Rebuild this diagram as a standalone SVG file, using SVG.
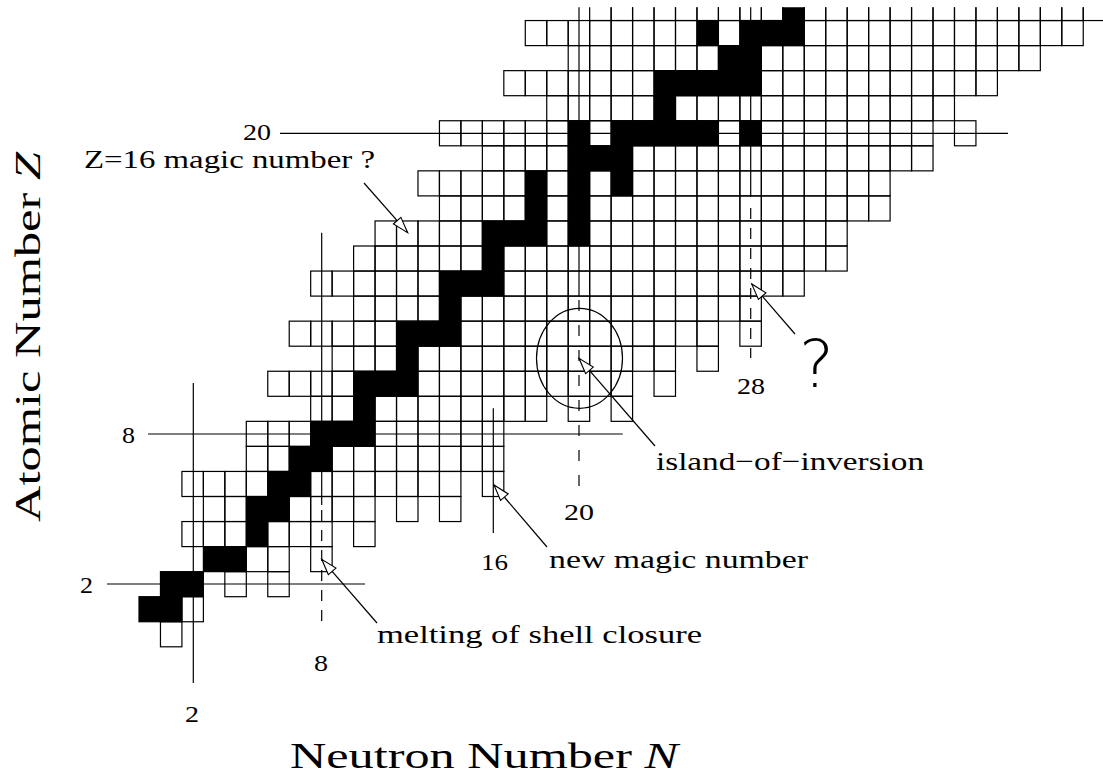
<svg xmlns="http://www.w3.org/2000/svg" xmlns:xlink="http://www.w3.org/1999/xlink" width="1103" height="778" viewBox="0 0 1103 778">
<defs>
<style>
.c{fill:none;stroke:#000;stroke-width:1.2}
.k{fill:#000;stroke:#000;stroke-width:1.2}
.m{fill:none;stroke:#000;stroke-width:1.2}
.d{stroke-dasharray:11 9}
.d2{stroke-dasharray:11 14}
.a{fill:none;stroke:#000;stroke-width:1.2;marker-end:url(#ah)}
text{font-family:"Liberation Serif","DejaVu Serif",serif;fill:#000}
.n{font-size:24px}
.t{font-size:26px}
.ax{font-size:36px}
</style>
<rect id="w" class="c" width="21.46" height="25.05"/>
<rect id="b" class="k" width="21.46" height="25.05"/>
<clipPath id="clip"><rect x="0" y="7.3" width="1103" height="771"/></clipPath>
<marker id="ah" markerUnits="userSpaceOnUse" markerWidth="20" markerHeight="14" refX="17" refY="6" orient="auto" viewBox="0 0 20 12">
<path d="M1,1 L17,6 L1,11 Z" fill="#fff" stroke="#000" stroke-width="1.1"/>
</marker>
</defs>
<rect width="1103" height="778" fill="#fff"/>
<g id="chart" clip-path="url(#clip)">
<g id="Z0" transform="translate(0,621.75)"><use href="#w" x="160.46"/></g>
<g id="Z1" transform="translate(0,596.7)"><use href="#b" x="139"/><use href="#b" x="160.46"/><use href="#w" x="181.92"/></g>
<g id="Z2" transform="translate(0,571.65)"><use href="#b" x="160.46"/><use href="#b" x="181.92"/><use href="#w" x="224.84"/><use href="#w" x="267.76"/></g>
<g id="Z3" transform="translate(0,546.6)"><use href="#b" x="203.38"/><use href="#b" x="224.84"/><use href="#w" x="246.3"/><use href="#w" x="267.76"/><use href="#w" x="310.68"/></g>
<g id="Z4" transform="translate(0,521.55)"><use href="#w" x="181.92"/><use href="#w" x="203.38"/><use href="#w" x="224.84"/><use href="#b" x="246.3"/><use href="#w" x="267.76"/><use href="#w" x="289.22"/><use href="#w" x="310.68"/><use href="#w" x="353.6"/></g>
<g id="Z5" transform="translate(0,496.5)"><use href="#w" x="203.38"/><use href="#w" x="224.84"/><use href="#b" x="246.3"/><use href="#b" x="267.76"/><use href="#w" x="289.22"/><use href="#w" x="310.68"/><use href="#w" x="332.14"/><use href="#w" x="353.6"/><use href="#w" x="396.52"/><use href="#w" x="439.44"/></g>
<g id="Z6" transform="translate(0,471.45)"><use href="#w" x="181.92"/><use href="#w" x="203.38"/><use href="#w" x="224.84"/><use href="#w" x="246.3"/><use href="#b" x="267.76"/><use href="#b" x="289.22"/><use href="#w" x="310.68"/><use href="#w" x="332.14"/><use href="#w" x="353.6"/><use href="#w" x="375.06"/><use href="#w" x="396.52"/><use href="#w" x="417.98"/><use href="#w" x="439.44"/><use href="#w" x="482.36"/></g>
<g id="Z7" transform="translate(0,446.4)"><use href="#w" x="246.3"/><use href="#w" x="267.76"/><use href="#b" x="289.22"/><use href="#b" x="310.68"/><use href="#w" x="332.14"/><use href="#w" x="353.6"/><use href="#w" x="375.06"/><use href="#w" x="396.52"/><use href="#w" x="417.98"/><use href="#w" x="439.44"/><use href="#w" x="460.9"/><use href="#w" x="482.36"/></g>
<g id="Z8" transform="translate(0,421.35)"><use href="#w" x="246.3"/><use href="#w" x="267.76"/><use href="#w" x="289.22"/><use href="#b" x="310.68"/><use href="#b" x="332.14"/><use href="#b" x="353.6"/><use href="#w" x="375.06"/><use href="#w" x="396.52"/><use href="#w" x="417.98"/><use href="#w" x="439.44"/><use href="#w" x="460.9"/><use href="#w" x="482.36"/></g>
<g id="Z9" transform="translate(0,396.3)"><use href="#w" x="310.68"/><use href="#w" x="332.14"/><use href="#b" x="353.6"/><use href="#w" x="375.06"/><use href="#w" x="396.52"/><use href="#w" x="417.98"/><use href="#w" x="439.44"/><use href="#w" x="460.9"/><use href="#w" x="482.36"/><use href="#w" x="503.82"/><use href="#w" x="525.28"/><use href="#w" x="568.2"/><use href="#w" x="611.12"/></g>
<g id="Z10" transform="translate(0,371.25)"><use href="#w" x="267.76"/><use href="#w" x="289.22"/><use href="#w" x="310.68"/><use href="#w" x="332.14"/><use href="#b" x="353.6"/><use href="#b" x="375.06"/><use href="#b" x="396.52"/><use href="#w" x="417.98"/><use href="#w" x="439.44"/><use href="#w" x="460.9"/><use href="#w" x="482.36"/><use href="#w" x="503.82"/><use href="#w" x="525.28"/><use href="#w" x="546.74"/><use href="#w" x="568.2"/><use href="#w" x="589.66"/><use href="#w" x="611.12"/><use href="#w" x="654.04"/></g>
<g id="Z11" transform="translate(0,346.2)"><use href="#w" x="332.14"/><use href="#w" x="353.6"/><use href="#w" x="375.06"/><use href="#b" x="396.52"/><use href="#w" x="417.98"/><use href="#w" x="439.44"/><use href="#w" x="460.9"/><use href="#w" x="482.36"/><use href="#w" x="503.82"/><use href="#w" x="525.28"/><use href="#w" x="546.74"/><use href="#w" x="568.2"/><use href="#w" x="589.66"/><use href="#w" x="611.12"/><use href="#w" x="632.58"/><use href="#w" x="654.04"/><use href="#w" x="696.96"/></g>
<g id="Z12" transform="translate(0,321.15)"><use href="#w" x="289.22"/><use href="#w" x="310.68"/><use href="#w" x="332.14"/><use href="#w" x="353.6"/><use href="#w" x="375.06"/><use href="#b" x="396.52"/><use href="#b" x="417.98"/><use href="#b" x="439.44"/><use href="#w" x="460.9"/><use href="#w" x="482.36"/><use href="#w" x="503.82"/><use href="#w" x="525.28"/><use href="#w" x="546.74"/><use href="#w" x="568.2"/><use href="#w" x="589.66"/><use href="#w" x="611.12"/><use href="#w" x="632.58"/><use href="#w" x="654.04"/><use href="#w" x="675.5"/><use href="#w" x="696.96"/><use href="#w" x="739.88"/></g>
<g id="Z13" transform="translate(0,296.1)"><use href="#w" x="353.6"/><use href="#w" x="375.06"/><use href="#w" x="396.52"/><use href="#w" x="417.98"/><use href="#b" x="439.44"/><use href="#w" x="460.9"/><use href="#w" x="482.36"/><use href="#w" x="503.82"/><use href="#w" x="525.28"/><use href="#w" x="546.74"/><use href="#w" x="568.2"/><use href="#w" x="589.66"/><use href="#w" x="611.12"/><use href="#w" x="632.58"/><use href="#w" x="654.04"/><use href="#w" x="675.5"/><use href="#w" x="696.96"/><use href="#w" x="718.42"/><use href="#w" x="739.88"/></g>
<g id="Z14" transform="translate(0,271.05)"><use href="#w" x="310.68"/><use href="#w" x="332.14"/><use href="#w" x="353.6"/><use href="#w" x="375.06"/><use href="#w" x="396.52"/><use href="#w" x="417.98"/><use href="#b" x="439.44"/><use href="#b" x="460.9"/><use href="#b" x="482.36"/><use href="#w" x="503.82"/><use href="#w" x="525.28"/><use href="#w" x="546.74"/><use href="#w" x="568.2"/><use href="#w" x="589.66"/><use href="#w" x="611.12"/><use href="#w" x="632.58"/><use href="#w" x="654.04"/><use href="#w" x="675.5"/><use href="#w" x="696.96"/><use href="#w" x="718.42"/><use href="#w" x="739.88"/><use href="#w" x="761.34"/><use href="#w" x="782.8"/></g>
<g id="Z15" transform="translate(0,246)"><use href="#w" x="353.6"/><use href="#w" x="375.06"/><use href="#w" x="396.52"/><use href="#w" x="417.98"/><use href="#w" x="439.44"/><use href="#w" x="460.9"/><use href="#b" x="482.36"/><use href="#w" x="503.82"/><use href="#w" x="525.28"/><use href="#w" x="546.74"/><use href="#w" x="568.2"/><use href="#w" x="589.66"/><use href="#w" x="611.12"/><use href="#w" x="632.58"/><use href="#w" x="654.04"/><use href="#w" x="675.5"/><use href="#w" x="696.96"/><use href="#w" x="718.42"/><use href="#w" x="739.88"/><use href="#w" x="761.34"/><use href="#w" x="782.8"/><use href="#w" x="804.26"/><use href="#w" x="825.72"/></g>
<g id="Z16" transform="translate(0,220.95)"><use href="#w" x="375.06"/><use href="#w" x="396.52"/><use href="#w" x="417.98"/><use href="#w" x="439.44"/><use href="#w" x="460.9"/><use href="#b" x="482.36"/><use href="#b" x="503.82"/><use href="#b" x="525.28"/><use href="#w" x="546.74"/><use href="#b" x="568.2"/><use href="#w" x="589.66"/><use href="#w" x="611.12"/><use href="#w" x="632.58"/><use href="#w" x="654.04"/><use href="#w" x="675.5"/><use href="#w" x="696.96"/><use href="#w" x="718.42"/><use href="#w" x="739.88"/><use href="#w" x="761.34"/><use href="#w" x="782.8"/><use href="#w" x="804.26"/><use href="#w" x="825.72"/></g>
<g id="Z17" transform="translate(0,195.9)"><use href="#w" x="439.44"/><use href="#w" x="460.9"/><use href="#w" x="482.36"/><use href="#w" x="503.82"/><use href="#b" x="525.28"/><use href="#w" x="546.74"/><use href="#b" x="568.2"/><use href="#w" x="589.66"/><use href="#w" x="611.12"/><use href="#w" x="632.58"/><use href="#w" x="654.04"/><use href="#w" x="675.5"/><use href="#w" x="696.96"/><use href="#w" x="718.42"/><use href="#w" x="739.88"/><use href="#w" x="761.34"/><use href="#w" x="782.8"/><use href="#w" x="804.26"/><use href="#w" x="825.72"/><use href="#w" x="847.18"/><use href="#w" x="868.64"/></g>
<g id="Z18" transform="translate(0,170.85)"><use href="#w" x="417.98"/><use href="#w" x="439.44"/><use href="#w" x="460.9"/><use href="#w" x="482.36"/><use href="#w" x="503.82"/><use href="#b" x="525.28"/><use href="#w" x="546.74"/><use href="#b" x="568.2"/><use href="#w" x="589.66"/><use href="#b" x="611.12"/><use href="#w" x="632.58"/><use href="#w" x="654.04"/><use href="#w" x="675.5"/><use href="#w" x="696.96"/><use href="#w" x="718.42"/><use href="#w" x="739.88"/><use href="#w" x="761.34"/><use href="#w" x="782.8"/><use href="#w" x="804.26"/><use href="#w" x="825.72"/><use href="#w" x="847.18"/><use href="#w" x="868.64"/></g>
<g id="Z19" transform="translate(0,145.8)"><use href="#w" x="482.36"/><use href="#w" x="503.82"/><use href="#w" x="525.28"/><use href="#w" x="546.74"/><use href="#b" x="568.2"/><use href="#b" x="589.66"/><use href="#b" x="611.12"/><use href="#w" x="632.58"/><use href="#w" x="654.04"/><use href="#w" x="675.5"/><use href="#w" x="696.96"/><use href="#w" x="718.42"/><use href="#w" x="739.88"/><use href="#w" x="761.34"/><use href="#w" x="782.8"/><use href="#w" x="804.26"/><use href="#w" x="825.72"/><use href="#w" x="847.18"/><use href="#w" x="868.64"/><use href="#w" x="890.1"/><use href="#w" x="911.56"/></g>
<g id="Z20" transform="translate(0,120.75)"><use href="#w" x="439.44"/><use href="#w" x="460.9"/><use href="#w" x="482.36"/><use href="#w" x="503.82"/><use href="#w" x="525.28"/><use href="#w" x="546.74"/><use href="#b" x="568.2"/><use href="#w" x="589.66"/><use href="#b" x="611.12"/><use href="#b" x="632.58"/><use href="#b" x="654.04"/><use href="#b" x="675.5"/><use href="#b" x="696.96"/><use href="#w" x="718.42"/><use href="#b" x="739.88"/><use href="#w" x="761.34"/><use href="#w" x="782.8"/><use href="#w" x="804.26"/><use href="#w" x="825.72"/><use href="#w" x="847.18"/><use href="#w" x="868.64"/><use href="#w" x="890.1"/><use href="#w" x="911.56"/><use href="#w" x="954.48"/></g>
<g id="Z21" transform="translate(0,95.7)"><use href="#w" x="546.74"/><use href="#w" x="568.2"/><use href="#w" x="589.66"/><use href="#w" x="611.12"/><use href="#w" x="632.58"/><use href="#b" x="654.04"/><use href="#w" x="675.5"/><use href="#w" x="696.96"/><use href="#w" x="718.42"/><use href="#w" x="739.88"/><use href="#w" x="761.34"/><use href="#w" x="782.8"/><use href="#w" x="804.26"/><use href="#w" x="825.72"/><use href="#w" x="847.18"/><use href="#w" x="868.64"/><use href="#w" x="890.1"/><use href="#w" x="911.56"/><use href="#w" x="933.02"/></g>
<g id="Z22" transform="translate(0,70.65)"><use href="#w" x="503.82"/><use href="#w" x="525.28"/><use href="#w" x="546.74"/><use href="#w" x="568.2"/><use href="#w" x="589.66"/><use href="#w" x="611.12"/><use href="#w" x="632.58"/><use href="#b" x="654.04"/><use href="#b" x="675.5"/><use href="#b" x="696.96"/><use href="#b" x="718.42"/><use href="#b" x="739.88"/><use href="#w" x="761.34"/><use href="#w" x="782.8"/><use href="#w" x="804.26"/><use href="#w" x="825.72"/><use href="#w" x="847.18"/><use href="#w" x="868.64"/><use href="#w" x="890.1"/><use href="#w" x="911.56"/><use href="#w" x="933.02"/><use href="#w" x="954.48"/><use href="#w" x="975.94"/></g>
<g id="Z23" transform="translate(0,45.6)"><use href="#w" x="568.2"/><use href="#w" x="589.66"/><use href="#w" x="611.12"/><use href="#w" x="632.58"/><use href="#w" x="654.04"/><use href="#w" x="675.5"/><use href="#w" x="696.96"/><use href="#b" x="718.42"/><use href="#b" x="739.88"/><use href="#w" x="761.34"/><use href="#w" x="782.8"/><use href="#w" x="804.26"/><use href="#w" x="825.72"/><use href="#w" x="847.18"/><use href="#w" x="868.64"/><use href="#w" x="890.1"/><use href="#w" x="911.56"/><use href="#w" x="933.02"/><use href="#w" x="954.48"/><use href="#w" x="975.94"/><use href="#w" x="997.4"/><use href="#w" x="1018.86"/></g>
<g id="Z24" transform="translate(0,20.55)"><use href="#w" x="525.28"/><use href="#w" x="546.74"/><use href="#w" x="568.2"/><use href="#w" x="589.66"/><use href="#w" x="611.12"/><use href="#w" x="632.58"/><use href="#w" x="654.04"/><use href="#w" x="675.5"/><use href="#b" x="696.96"/><use href="#w" x="718.42"/><use href="#b" x="739.88"/><use href="#b" x="761.34"/><use href="#b" x="782.8"/><use href="#w" x="804.26"/><use href="#w" x="825.72"/><use href="#w" x="847.18"/><use href="#w" x="868.64"/><use href="#w" x="890.1"/><use href="#w" x="911.56"/><use href="#w" x="933.02"/><use href="#w" x="954.48"/><use href="#w" x="975.94"/><use href="#w" x="997.4"/><use href="#w" x="1018.86"/><use href="#w" x="1040.32"/><use href="#w" x="1061.78"/></g>
<g id="Z25" transform="translate(0,-4.5)"><use href="#w" x="589.66"/><use href="#w" x="611.12"/><use href="#w" x="632.58"/><use href="#w" x="654.04"/><use href="#w" x="675.5"/><use href="#w" x="696.96"/><use href="#w" x="718.42"/><use href="#w" x="739.88"/><use href="#w" x="761.34"/><use href="#b" x="782.8"/><use href="#w" x="804.26"/><use href="#w" x="825.72"/><use href="#w" x="847.18"/><use href="#w" x="868.64"/><use href="#w" x="890.1"/><use href="#w" x="911.56"/><use href="#w" x="933.02"/><use href="#w" x="954.48"/><use href="#w" x="975.94"/><use href="#w" x="997.4"/><use href="#w" x="1018.86"/><use href="#w" x="1040.32"/><use href="#w" x="1061.78"/><use href="#w" x="1083.24"/></g>
</g>
<g id="magic-lines" clip-path="url(#clip)">
<path class="m" d="M280,133.3 H1008"/>
<path class="m" d="M148,434 H622.7"/>
<path class="m" d="M107,584 H365"/>
<path class="m" d="M193.3,383 V683"/>
<path class="m" d="M321.7,232.7 V505"/>
<path class="m d" d="M321.7,510 V627"/>
<path class="m" d="M493.3,408.3 V533"/>
<path class="m" d="M579,7 V296"/>
<path class="m d2" d="M579,300 V486"/>
<path class="m" d="M750.7,7 V197"/>
<path class="m d" d="M750.7,208 V358"/>
</g>
<ellipse id="island" cx="579.5" cy="358.3" rx="43" ry="50" class="m"/>
<g id="connectors">
<path class="a" d="M364,183 L407.7,232.7"/>
<path class="a" d="M795,334 L751.7,284"/>
<path class="a" d="M655,446 L579,358.3"/>
<path class="a" d="M547,547 L494,485"/>
<path class="a" d="M377,623 L321.7,559.3"/>
</g>
<g id="labels">
<text class="n" x="243" y="140" textLength="28" lengthAdjust="spacingAndGlyphs">20</text>
<text class="n" x="122" y="443" textLength="13" lengthAdjust="spacingAndGlyphs">8</text>
<text class="n" x="80" y="593" textLength="13" lengthAdjust="spacingAndGlyphs">2</text>
<text class="n" x="185" y="722" textLength="14" lengthAdjust="spacingAndGlyphs">2</text>
<text class="n" x="314" y="671" textLength="14" lengthAdjust="spacingAndGlyphs">8</text>
<text class="n" x="481" y="570" textLength="27" lengthAdjust="spacingAndGlyphs">16</text>
<text class="n" x="564" y="520" textLength="30" lengthAdjust="spacingAndGlyphs">20</text>
<text class="n" x="737" y="394" textLength="28" lengthAdjust="spacingAndGlyphs">28</text>
<text class="t" x="84" y="168" textLength="291" lengthAdjust="spacingAndGlyphs">Z=16 magic number ?</text>
<text class="t" x="656" y="470" textLength="268" lengthAdjust="spacingAndGlyphs">island−of−inversion</text>
<text class="t" x="549" y="568" textLength="259" lengthAdjust="spacingAndGlyphs">new magic number</text>
<text class="t" x="377" y="643" textLength="325" lengthAdjust="spacingAndGlyphs">melting of shell closure</text>
<text x="799" y="387" font-size="66" style="font-family:'DejaVu Sans','Liberation Sans',sans-serif;font-weight:200">?</text>
<text class="ax" x="290" y="768" textLength="388" lengthAdjust="spacingAndGlyphs">Neutron Number <tspan font-style="italic">N</tspan></text>
<text class="ax" transform="translate(40,522) rotate(-90)" textLength="370" lengthAdjust="spacingAndGlyphs">Atomic Number <tspan font-style="italic">Z</tspan></text>
</g>
</svg>
